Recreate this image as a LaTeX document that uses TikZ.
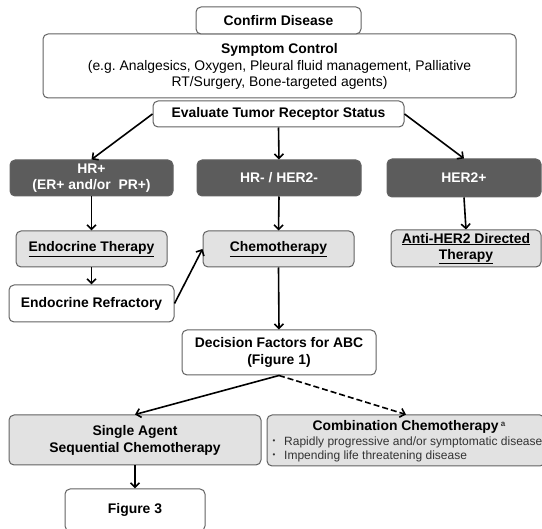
\documentclass[tikz,border=0pt]{standalone}
\usepackage{fontspec}
\setmainfont{Liberation Sans}
\usetikzlibrary{arrows.meta}
\definecolor{boxline}{HTML}{626262}
\definecolor{darkfill}{HTML}{5C5C5C}
\definecolor{lightfill}{HTML}{E2E2E2}
\definecolor{bullettext}{HTML}{333333}
\frenchspacing

\begin{document}
\begin{tikzpicture}[x=1pt, y=-1pt,
  box/.style={draw=boxline, line width=1pt, rounded corners=5pt, inner sep=0pt,
    align=center, font=\fontsize{13.9}{16}\selectfont\bfseries},
  plainbox/.style={box, fill=white},
  darkbox/.style={box, fill=darkfill, text=white},
  lightbox/.style={box, fill=lightfill},
  link/.style={line width=1.6pt, -{Straight Barb[length=4.5pt,width=9pt]}},
  bullettxt/.style={anchor=west, inner sep=0pt, text=bullettext,
    font=\fontsize{12}{14}\selectfont},
]
\useasboundingbox (0,0) rectangle (542,529);
\clip (0,0) rectangle (542,529);

% top of the pathway
\node[plainbox, minimum width=473, minimum height=64] (symptom) at (279.5,66)
  {Symptom Control\\[1pt]
   {\mdseries (e.g. Analgesics, Oxygen, Pleural fluid management, Palliative}\\
   {\mdseries RT/Surgery, Bone-targeted agents)}};
\node[plainbox, minimum width=165, minimum height=27] (confirm) at (278.5,20.5) {Confirm Disease};
\node[plainbox, minimum width=251, minimum height=26] (evaluate) at (278.5,114) {Evaluate Tumor Receptor Status};

% receptor subtypes
\node[darkbox, minimum width=163, minimum height=36] (hrpos) at (91.5,178) {HR+\\(ER+ and/or\ \ PR+)};
\node[darkbox, minimum width=164, minimum height=36] (hrneg) at (279,178) {HR- / HER2-};
\node[darkbox, minimum width=154, minimum height=38] (her2) at (464,178) {HER2+};

% first-line therapy
\node[lightbox, minimum width=151, minimum height=36] (endo) at (91.5,249) {\underline{Endocrine Therapy}};
\node[lightbox, minimum width=151, minimum height=36] (chemo) at (278.5,249) {\underline{Chemotherapy}};
\node[lightbox, minimum width=150, minimum height=37] (antiher2) at (466,248.5)
  {\underline{Anti-HER2 Directed}\\\underline{Therapy}};

\node[plainbox, minimum width=165, minimum height=37] (refract) at (91.5,303.5) {Endocrine Refractory};
\node[plainbox, minimum width=194, minimum height=45] (decision) at (279,352.5)
  {Decision Factors for ABC\\[1pt](Figure 1)};

% chemotherapy options
\node[lightbox, minimum width=252, minimum height=50] (single) at (135,440)
  {Single Agent\\[1pt]Sequential Chemotherapy};
\node[lightbox, minimum width=278, minimum height=51] (combo) at (406,440.5) {};
\node[inner sep=0pt, font=\fontsize{13.9}{16}\selectfont\bfseries] (combotitle) at (409,427)
  {Combination Chemotherapy\,\raisebox{0.55ex}{\fontsize{8}{8}\selectfont\color{bullettext}a}};
\node[bullettxt] (bulletA) at (272.5,442) {\fontsize{8}{8}\selectfont•};
\node[bullettxt] (itemA) at (284,442) {Rapidly progressive and/or symptomatic disease};
\node[bullettxt] (bulletB) at (272.5,456) {\fontsize{8}{8}\selectfont•};
\node[bullettxt] (itemB) at (284,456) {Impending life threatening disease};

\node[plainbox, minimum width=140, minimum height=42] (fig3) at (135,510) {Figure 3};

% connectors
\draw[link] (evaluate.west) -- (hrpos.north);
\draw[link] (evaluate.south) -- (hrneg.north);
\draw[link] (evaluate.east) -- (her2.north);
\draw[link] (hrpos.south) -- (endo.north);
\draw[link] (hrneg.south) -- (chemo.north);
\draw[link] (her2.south) -- (antiher2.north);
\draw[link] (endo.south) -- (refract.north);
\draw[link] (refract.east) -- (chemo.west);
\draw[link] (chemo.south) -- (decision.north);
\draw[link] (decision.south) -- (single.north);
\draw[link, dash pattern=on 6pt off 3pt] (decision.south) -- (combo.north);
\draw[link] (single.south) -- (fig3.north);
\end{tikzpicture}
\end{document}
